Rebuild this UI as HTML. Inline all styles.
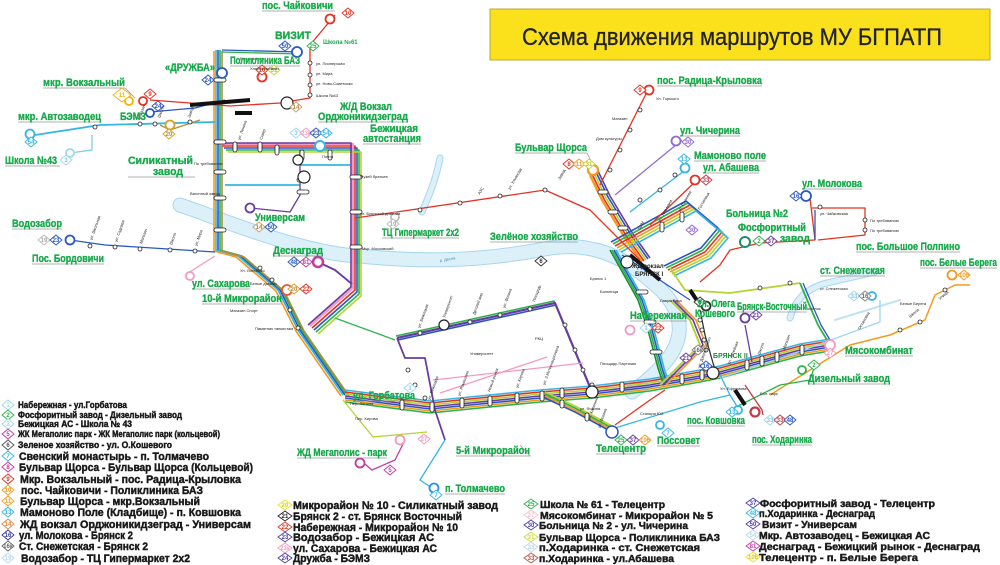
<!DOCTYPE html>
<html><head><meta charset="utf-8"><style>
html,body{margin:0;padding:0;background:#fff;}
svg{display:block;font-family:"Liberation Sans","DejaVu Sans",sans-serif;}
.g{fill:#17a94a;font-weight:bold;font-size:11px;stroke:#17a94a;stroke-width:0.35;}
.lg{fill:#1a1a1a;font-weight:bold;stroke:#1a1a1a;stroke-width:0.45;}
.s{fill:#222;font-size:4px;}
.r{fill:#222;font-size:4px;}
.st{fill:#fff;stroke:#222;stroke-width:0.8;}
</style></head><body>
<svg width="1000" height="565" viewBox="0 0 1000 565" xmlns="http://www.w3.org/2000/svg">
<rect width="1000" height="565" fill="#fff"/>
<g fill="none" stroke-linecap="round">
<path d="M180,205 L200,212 C260,235 320,255 360,256 C420,262 480,262 550,248 C590,242 622,255 652,282 C682,306 686,332 670,356 C658,372 645,383 632,392" stroke="#a9d6ef" stroke-width="15"/>
<path d="M180,205 L200,212 C260,235 320,255 360,256 C420,262 480,262 550,248 C590,242 622,255 652,282 C682,306 686,332 670,356 C658,372 645,383 632,392" stroke="#dcf0fa" stroke-width="13"/>
<path d="M440,158 C436,180 428,198 422,212" stroke="#a9d6ef" stroke-width="7"/>
<path d="M440,158 C436,180 428,198 422,212" stroke="#dcf0fa" stroke-width="5"/>
<path d="M875,272 L823,284 C805,290 795,300 790,318" stroke="#a9d6ef" stroke-width="7"/>
<path d="M875,272 L823,284 C805,290 795,300 790,318" stroke="#dcf0fa" stroke-width="5"/>
<path d="M835,320 L900,300" stroke="#bfe3f5" stroke-width="2"/>
</g>
<text x="440" y="262" font-size="4" fill="#3a8fc8" transform="rotate(-10 440 262)">р. Десна</text>

<defs>
<path id="b1" d="M218,50 L218,250 L240,256 L280,290 L300,330 L345,395"/>
<path id="b2" d="M222,146 L355,146 L355,290 L312,328"/>
<path id="b3" d="M345,396 L430,407 L540,396 L592,392 L650,385 L700,376 L720,372 L800,350 L830,345"/>
<path id="b4" d="M397,338 L555,303 L592,392"/>
<path id="b5" d="M612,250 L640,300 L650,330 L660,368 L665,383"/>
<path id="b6" d="M590,175 L602,200 L625,238 L642,262"/>
<path id="b7" d="M615,246 L690,205 L722,232 L705,252 L668,270"/>
<path id="b8" d="M545,398 L575,412 L612,432"/>
<path id="b9" d="M660,385 L700,345 L690,320 L670,300"/>
</defs>
<g fill="none" stroke-width="1.6" stroke-linejoin="round">
<use href="#b1" stroke="#2a57c4"/>
<use href="#b1" stroke="#2db34a" transform="translate(2,0)"/>
<use href="#b1" stroke="#35b6e6" transform="translate(-2,0)"/>
<use href="#b1" stroke="#b58a3c" transform="translate(4,1)"/>
<use href="#b1" stroke="#f39a1e" transform="translate(-4,1)"/>
<use href="#b2" stroke="#e53222"/>
<use href="#b2" stroke="#2a57c4" transform="translate(2,2)"/>
<use href="#b2" stroke="#2db34a" transform="translate(4,4)"/>
<use href="#b2" stroke="#f49ac1" transform="translate(-2,-2)" stroke-width="2.2"/>
<use href="#b2" stroke="#b5d334" transform="translate(6,6)"/>
<use href="#b2" stroke="#6a3ca0" transform="translate(-4,-3)"/>
<use href="#b3" stroke="#6a3ca0"/>
<use href="#b3" stroke="#2a57c4" transform="translate(0,2)"/>
<use href="#b3" stroke="#b5d334" transform="translate(0,-2)"/>
<use href="#b3" stroke="#f39a1e" transform="translate(0,4)"/>
<use href="#b3" stroke="#e53222" transform="translate(0,-4)"/>
<use href="#b3" stroke="#2db34a" transform="translate(0,6)"/>
<use href="#b3" stroke="#35b6e6" transform="translate(0,-6)"/>
<use href="#b4" stroke="#2a57c4" transform="translate(1,2)"/>
<use href="#b4" stroke="#2db34a" transform="translate(-1,-2)"/>
<use href="#b4" stroke="#6a3ca0" stroke-width="2.2"/>
<use href="#b5" stroke="#2db34a"/>
<use href="#b5" stroke="#2a57c4" transform="translate(2,0)"/>
<use href="#b5" stroke="#35b6e6" transform="translate(4,0)"/>
<use href="#b5" stroke="#1b8f3a" transform="translate(-2,0)"/>
<use href="#b6" stroke="#f39a1e" stroke-width="2.4"/>
<use href="#b6" stroke="#e53222" transform="translate(2,-1)"/>
<use href="#b6" stroke="#b5d334" transform="translate(4,-2)"/>
<use href="#b6" stroke="#2a57c4" transform="translate(6,-3)"/>
<use href="#b6" stroke="#6a3ca0" transform="translate(8,-4)"/>
<use href="#b7" stroke="#e53222"/>
<use href="#b7" stroke="#f39a1e" transform="translate(2,2)"/>
<use href="#b7" stroke="#b5d334" transform="translate(4,4)"/>
<use href="#b7" stroke="#2db34a" transform="translate(-2,-2)"/>
<use href="#b7" stroke="#2a57c4" transform="translate(-4,-4)"/>
<use href="#b7" stroke="#35b6e6" transform="translate(6,6)"/>
<use href="#b8" stroke="#2a57c4"/>
<use href="#b8" stroke="#f39a1e" transform="translate(0,-2)"/>
<use href="#b8" stroke="#2db34a" transform="translate(0,-4)"/>
<use href="#b8" stroke="#b5d334" transform="translate(0,-6)"/>
<use href="#b9" stroke="#b5d334" stroke-width="2"/>
<use href="#b9" stroke="#6a3ca0" transform="translate(3,0)"/>
<use href="#b9" stroke="#f39a1e" transform="translate(6,0)"/>
</g>
<g fill="none" stroke-width="1.3" stroke-linejoin="round">
<path d="M222,50 L300,52" stroke="#2a57c4"/><path d="M222,52 L300,54" stroke="#2db34a"/>
<path d="M335,15 L310,45 L310,98 L280,103 L230,106 L150,100" stroke="#e53222"/>
<path d="M150,112 L195,108 L225,100" stroke="#2a57c4"/>
<path d="M35,135 L100,125 L215,122" stroke="#35b6e6" stroke-width="1.8"/>
<path d="M70,153 L92,150 L92,135" stroke="#7fcbea"/>
<path d="M160,125 L170,130 L200,120" stroke="#b58a3c"/>
<path d="M70,240 L105,245 L215,252" stroke="#2a57c4"/>
<path d="M185,275 L215,256" stroke="#f49ac1"/>
<path d="M225,185 L300,185" stroke="#35b6e6" stroke-width="1.8"/>
<path d="M300,165 L350,165" stroke="#35b6e6" stroke-width="1.8"/>
<path d="M250,208 L290,212 L300,195 L300,150" stroke="#6a3ca0"/>
<path d="M318,262 L335,270 L352,284" stroke="#6a3ca0" stroke-width="1.8"/>
<path d="M355,218 L390,213 L545,190 L590,210 L640,260" stroke="#e53222"/>
<path d="M335,318 L395,340" stroke="#2db34a"/>
<path d="M440,393 L547,357" stroke="#f49ac1"/>
<path d="M433,380 L583,363" stroke="#f49ac1"/>
<path d="M343,400 L373,437 L427,432" stroke="#b5d334"/>
<path d="M397,338 L405,358 L425,358 L435,410 L445,440" stroke="#6a3ca0" stroke-width="1.8"/>
<path d="M445,440 L420,480 L432,488" stroke="#35b6e6"/>
<path d="M405,440 L395,460 L372,470 L360,460" stroke="#c23ba0"/>
<path d="M648,90 L600,185" stroke="#e53222"/>
<path d="M682,140 L615,195" stroke="#8f6ad8"/>
<path d="M688,168 L630,212" stroke="#35b6e6"/>
<path d="M697,180 L650,225" stroke="#e53222"/>
<path d="M810,198 L815,240 L760,243 L730,250 L720,265 L700,282" stroke="#e53222"/>
<path d="M812,208 L865,208 L865,235 L818,240" stroke="#e53222"/>
<path d="M815,240 L815,210" stroke="#2a57c4"/>
<path d="M670,268 L685,290 L730,293 L800,283" stroke="#b5d334" stroke-width="1.8"/>
<path d="M800,283 L808,302 L818,325 L830,345" stroke="#2db34a" stroke-width="1.8"/>
<path d="M803,283 L811,302 L821,325 L833,345" stroke="#2a57c4"/>
<path d="M770,395 L850,345 L890,335 L925,320 L935,295 L955,285 L970,285" stroke="#f39a1e" stroke-width="1.5"/>
<path d="M720,378 L790,355 L880,322 L880,300" stroke="#9fd6f0"/>
<path d="M700,310 L705,335 L715,370" stroke="#333"/>
<path d="M745,325 L752,362" stroke="#6a3ca0"/>
<path d="M730,410 L780,385 L810,380 L815,365" stroke="#2db34a"/>
<path d="M745,385 L762,410 L763,415" stroke="#c23b4a"/>
<path d="M720,375 L730,395 L738,408" stroke="#35b6e6"/>
<path d="M615,428 L700,402 L730,395" stroke="#35b6e6"/>
<path d="M615,425 L650,400 L665,390" stroke="#e53222"/>
<path d="M622,255 L690,300" stroke="#2a57c4"/>
</g>
<g stroke="#999" stroke-width="0.8" fill="none">
<path d="M262,11 L335,11"/><path d="M230,66 L300,66"/><path d="M43,88 L125,88 L135,98"/><path d="M18,122 L101,122"/>
<path d="M318,122 L408,122"/><path d="M363,144 L421,144"/><path d="M5,166 L60,166"/><path d="M128,177 L195,177"/>
<path d="M12,229 L62,229"/><path d="M32,264 L104,264"/><path d="M273,256 L323,256"/><path d="M382,238 L459,238"/>
<path d="M192,289 L250,289"/><path d="M202,304 L282,304"/><path d="M490,242 L578,242"/><path d="M515,153 L587,153 L593,165"/>
<path d="M657,86 L762,86"/><path d="M680,136 L740,136"/><path d="M694,161 L766,161"/><path d="M703,173 L759,173"/>
<path d="M802,189 L862,189"/><path d="M856,252 L960,252"/><path d="M820,276 L885,276"/><path d="M920,268 L997,268"/>
<path d="M630,321 L687,321"/><path d="M845,356 L913,356"/><path d="M808,384 L890,384"/><path d="M353,401 L415,401"/>
<path d="M297,458 L387,458"/><path d="M456,456 L530,456 L520,445"/><path d="M445,494 L505,494"/><path d="M596,454 L646,454"/>
<path d="M657,446 L700,446"/><path d="M687,426 L745,426"/><path d="M752,445 L812,445"/><path d="M737,312 L807,312"/>
</g>
<g stroke="#111" stroke-width="4">
<path d="M190,105 L250,100"/><path d="M235,113 L252,113"/>
<path d="M630,255 L660,280"/><path d="M690,290 L700,305"/>
<path d="M735,390 L745,405"/>
</g>
<g class="st">
<rect x="214" y="78" width="12" height="4" rx="2"/><rect x="214" y="140" width="12" height="4" rx="2"/><rect x="214" y="170" width="12" height="4" rx="2"/>
<rect x="214" y="196" width="12" height="4" rx="2"/><rect x="214" y="228" width="12" height="4" rx="2"/>
<rect x="233" y="142" width="4" height="10" rx="2"/><rect x="258" y="142" width="4" height="10" rx="2"/>
<rect x="350" y="175" width="12" height="4" rx="2"/><rect x="350" y="210" width="12" height="4" rx="2"/><rect x="350" y="245" width="12" height="4" rx="2"/>
<rect x="297" y="178" width="12" height="4" rx="2"/><rect x="297" y="190" width="12" height="4" rx="2"/>
<rect x="300" y="150" width="4" height="10" rx="2"/><rect x="328" y="150" width="4" height="10" rx="2"/>
<rect x="400" y="400" width="4" height="10" rx="2"/><rect x="460" y="398" width="4" height="10" rx="2"/><rect x="515" y="393" width="4" height="10" rx="2"/>
<rect x="560" y="388" width="4" height="10" rx="2"/><rect x="620" y="382" width="4" height="10" rx="2"/><rect x="680" y="374" width="4" height="10" rx="2"/>
<rect x="745" y="360" width="4" height="10" rx="2"/><rect x="775" y="352" width="4" height="10" rx="2"/>
<rect x="636" y="290" width="12" height="4" rx="2"/><rect x="644" y="320" width="12" height="4" rx="2"/><rect x="650" y="350" width="12" height="4" rx="2"/>
<rect x="598" y="190" width="10" height="4" rx="2"/><rect x="608" y="210" width="10" height="4" rx="2"/><rect x="618" y="226" width="10" height="4" rx="2"/>
<rect x="660" y="222" width="4" height="10" rx="2"/><rect x="680" y="212" width="4" height="10" rx="2"/>
<rect x="430" y="402" width="4" height="10" rx="2"/><rect x="488" y="396" width="4" height="10" rx="2"/><rect x="540" y="391" width="4" height="10" rx="2"/>
<rect x="590" y="383" width="4" height="10" rx="2"/><rect x="700" y="370" width="4" height="10" rx="2"/><rect x="760" y="356" width="4" height="10" rx="2"/><rect x="800" y="345" width="4" height="10" rx="2"/>
<rect x="275" y="145" width="4" height="10" rx="2"/><rect x="560" y="400" width="4" height="8" rx="2"/><rect x="585" y="413" width="4" height="8" rx="2"/>
<circle cx="298" cy="160" r="5" stroke-width="1.2"/><circle cx="304" cy="177" r="6" stroke-width="1.2"/>
<circle cx="320" cy="146" r="5" stroke="#35b6e6" stroke-width="2"/>
<circle cx="627" cy="262" r="6" stroke-width="1.2"/><circle cx="592" cy="392" r="6" stroke-width="1.2"/>
<circle cx="713" cy="373" r="6" stroke-width="1.2"/><circle cx="612" cy="432" r="6" stroke="#2a57c4" stroke-width="1.5"/>
<circle cx="444" cy="325" r="5" stroke-width="1.2"/><circle cx="545" cy="190" r="2"/><circle cx="460" cy="203" r="2"/><circle cx="500" cy="196" r="2"/><circle cx="420" cy="210" r="2"/>
<circle cx="95" cy="127" r="2"/><circle cx="140" cy="124" r="2"/><circle cx="155" cy="124" r="2"/><circle cx="170" cy="123" r="2"/><circle cx="190" cy="122" r="2"/>
<circle cx="90" cy="246" r="2"/><circle cx="115" cy="247" r="2"/><circle cx="140" cy="249" r="2"/><circle cx="170" cy="250" r="2"/><circle cx="195" cy="251" r="2"/>
<circle cx="260" cy="268" r="2"/><circle cx="272" cy="280" r="2"/><circle cx="290" cy="310" r="2"/><circle cx="298" cy="328" r="2"/>
<circle cx="310" cy="63" r="2"/><circle cx="310" cy="75" r="2"/><circle cx="310" cy="85" r="2"/><circle cx="310" cy="95" r="2"/>
<circle cx="640" cy="110" r="2"/><circle cx="630" cy="130" r="2"/><circle cx="620" cy="150" r="2"/><circle cx="610" cy="170" r="2"/>
<circle cx="790" cy="283" r="2"/><circle cx="760" cy="288" r="2"/><circle cx="900" cy="330" r="2"/><circle cx="920" cy="322" r="2"/><circle cx="945" cy="290" r="2"/>
<circle cx="700" cy="320" r="2"/><circle cx="702" cy="330" r="2"/><circle cx="704" cy="340" r="2"/><circle cx="706" cy="350" r="2"/>
<circle cx="820" cy="207" r="2"/><circle cx="865" cy="220" r="2"/><circle cx="865" cy="230" r="2"/>
<circle cx="420" cy="333" r="2"/><circle cx="470" cy="322" r="2"/><circle cx="500" cy="315" r="2"/><circle cx="530" cy="309" r="2"/>
<circle cx="565" cy="325" r="2"/><circle cx="575" cy="350" r="2"/><circle cx="583" cy="370" r="2"/>
<circle cx="408" cy="370" r="2"/><circle cx="415" cy="385" r="2"/><circle cx="425" cy="398" r="2"/>
<circle cx="660" cy="190" r="2"/><circle cx="675" cy="175" r="2"/><circle cx="640" cy="200" r="2"/>
</g>
<g fill="#fff" stroke-width="1.8">
<circle cx="330" cy="19" r="4.5" stroke="#e53222"/>
<circle cx="297" cy="52" r="5" stroke="#2a57c4"/>
<circle cx="222" cy="73" r="5" stroke="#2a57c4"/>
<circle cx="262" cy="77" r="4.5" stroke="#e53222"/>
<circle cx="129" cy="101" r="4" stroke="#f0b400"/><circle cx="143" cy="101" r="4" stroke="#e53222"/><circle cx="150" cy="113" r="4" stroke="#2a57c4"/>
<circle cx="30" cy="134" r="4.5" stroke="#35b6e6"/><circle cx="70" cy="153" r="4" stroke="#9fd6f0"/>
<circle cx="170" cy="125" r="4.5" stroke="#d8a020"/>
<circle cx="287" cy="103" r="6" stroke="#222" stroke-width="1.2"/>
<circle cx="70" cy="240" r="4.5" stroke="#2a57c4"/>
<circle cx="190" cy="276" r="4" stroke="#f49ac1"/>
<circle cx="287" cy="290" r="5" stroke="#e85a2a"/>
<circle cx="250" cy="208" r="4.5" stroke="#6a3ca0"/>
<circle cx="318" cy="262" r="5" stroke="#c23ba0" stroke-width="2.5"/>
<circle cx="395" cy="217" r="4" stroke="#bbb"/>
<circle cx="593" cy="170" r="5" stroke="#f39a1e" stroke-width="2.2"/>
<circle cx="649" cy="90" r="4.5" stroke="#e53222"/>
<circle cx="676" cy="141" r="4.5" stroke="#8f6ad8"/>
<circle cx="685" cy="168" r="4.5" stroke="#35b6e6"/>
<circle cx="695" cy="180" r="4.5" stroke="#e53222"/>
<circle cx="806" cy="196" r="5" stroke="#2a57c4"/>
<circle cx="745" cy="242" r="5" stroke="#1b8f6a" stroke-width="2"/>
<circle cx="872" cy="296" r="4" stroke="#35b6e6"/>
<circle cx="952" cy="275" r="4.5" stroke="#f39a1e"/>
<circle cx="630" cy="330" r="4.5" stroke="#f49ac1"/>
<circle cx="706" cy="306" r="4.5" stroke="#333"/>
<circle cx="745" cy="318" r="4.5" stroke="#6a3ca0"/>
<circle cx="830" cy="345" r="5" stroke="#f49ac1"/>
<circle cx="802" cy="370" r="4" stroke="#2db34a"/>
<circle cx="755" cy="412" r="4.5" stroke="#c23b4a" stroke-width="2.2"/>
<circle cx="738" cy="410" r="4" stroke="#35b6e6"/>
<circle cx="660" cy="425" r="4" stroke="#35b6e6"/>
<circle cx="434" cy="488" r="4.5" stroke="#2a8ee6"/>
<circle cx="400" cy="440" r="4.5" stroke="#f49ac1"/>
<circle cx="360" cy="463" r="4.5" stroke="#c23ba0"/>
</g>
<g font-size="6" text-anchor="middle" font-weight="bold" stroke-width="0.9" fill="#fff">
<g stroke="#e53222"><path d="M342,13 L348,8 L354,13 L348,18Z"/></g><text x="348" y="15" fill="#e53222" stroke="none">10</text>
<g stroke="#2a57c4"><path d="M279,46 L285,41 L291,46 L285,51Z"/></g><text x="285" y="48" fill="#2a57c4" stroke="none">50</text>
<g stroke="#2db34a"><path d="M307,46 L313,41 L319,46 L313,51Z"/></g><text x="313" y="48" fill="#2db34a" stroke="none">25</text>
<g stroke="#2a57c4"><path d="M202,80 L208,75 L214,80 L208,85Z"/></g><text x="208" y="82" fill="#2a57c4" stroke="none">24</text>
<g stroke="#e53222"><path d="M256,70 L262,65 L268,70 L262,75Z"/></g><text x="262" y="72" fill="#e53222" stroke="none">10</text>
<g stroke="#c9d43a"><path d="M268,70 L274,65 L280,70 L274,75Z"/></g><text x="274" y="72" fill="#b5c020" stroke="none">31</text>
<g stroke="#f0b400"><path d="M113,95 L122,88 L131,95 L122,102Z"/></g><text x="122" y="97" fill="#f0b400" stroke="none">11</text>
<g stroke="#e53222"><path d="M144,94 L150,89 L156,94 L150,99Z"/></g><text x="150" y="96" fill="#e53222" stroke="none">9</text>
<g stroke="#2a57c4"><path d="M152,106 L158,101 L164,106 L158,111Z"/></g><text x="158" y="108" fill="#2a57c4" stroke="none">24</text>
<g stroke="#35b6e6"><path d="M25,142 L31,137 L37,142 L31,147Z"/></g><text x="31" y="144" fill="#35b6e6" stroke="none">54</text>
<g stroke="#9fd6f0"><path d="M60,160 L66,155 L72,160 L66,165Z"/></g><text x="66" y="162" fill="#7fc6e6" stroke="none">3</text>
<g stroke="#d8a020"><path d="M163,134 L169,129 L175,134 L169,139Z"/></g><text x="169" y="136" fill="#b58a3c" stroke="none">20</text>
<g stroke="#c8a070"><path d="M290,107 L296,102 L302,107 L296,112Z"/></g><text x="296" y="109" fill="#b58a3c" stroke="none">14</text>
<g stroke="#9fd6f0"><path d="M290,133 L296,128 L302,133 L296,138Z"/></g><text x="296" y="135" fill="#7fc6e6" stroke="none">3</text>
<g stroke="#f49ac1"><path d="M300,133 L306,128 L312,133 L306,138Z"/></g><text x="306" y="135" fill="#f49ac1" stroke="none">23к</text>
<g stroke="#2a57c4"><path d="M310,133 L316,128 L322,133 L316,138Z"/></g><text x="316" y="135" fill="#2a57c4" stroke="none">23</text>
<g stroke="#35b6e6"><path d="M320,133 L326,128 L332,133 L326,138Z"/></g><text x="326" y="135" fill="#35b6e6" stroke="none">54</text>
<g stroke="#bbb"><path d="M38,240 L44,235 L50,240 L44,245Z"/></g><text x="44" y="242" fill="#aaa" stroke="none">19</text>
<g stroke="#2a57c4"><path d="M50,240 L56,235 L62,240 L56,245Z"/></g><text x="56" y="242" fill="#2a57c4" stroke="none">23</text>
<g stroke="#c8a070"><path d="M253,227 L259,222 L265,227 L259,232Z"/></g><text x="259" y="229" fill="#b58a3c" stroke="none">14</text>
<g stroke="#2a57c4"><path d="M265,227 L271,222 L277,227 L271,232Z"/></g><text x="271" y="229" fill="#2a57c4" stroke="none">50</text>
<g stroke="#2a57c4"><path d="M288,262 L294,257 L300,262 L294,267Z"/></g><text x="294" y="264" fill="#2a57c4" stroke="none">48</text>
<g stroke="#c23ba0"><path d="M300,262 L306,257 L312,262 L306,267Z"/></g><text x="306" y="264" fill="#c23ba0" stroke="none">81</text>
<g stroke="#d8a020"><path d="M288,289 L294,284 L300,289 L294,294Z"/></g><text x="294" y="291" fill="#b58a3c" stroke="none">20</text>
<g stroke="#e53222"><path d="M300,289 L306,284 L312,289 L306,294Z"/></g><text x="306" y="291" fill="#e53222" stroke="none">22</text>
<g stroke="#bbb"><path d="M387,224 L393,219 L399,224 L393,229Z"/></g><text x="393" y="226" fill="#aaa" stroke="none">19</text>
<g stroke="#e53222"><path d="M563,164 L569,159 L575,164 L569,169Z"/></g><text x="569" y="166" fill="#e53222" stroke="none">8</text>
<g stroke="#f39a1e"><path d="M573,164 L579,159 L585,164 L579,169Z"/></g><text x="579" y="166" fill="#f39a1e" stroke="none">11</text>
<g stroke="#c9d43a"><path d="M583,164 L589,159 L595,164 L589,169Z"/></g><text x="589" y="166" fill="#b5c020" stroke="none">31</text>
<g stroke="#333"><path d="M535,261 L541,256 L547,261 L541,266Z"/></g><text x="541" y="263" fill="#333" stroke="none">6</text>
<g stroke="#e53222"><path d="M634,90 L640,85 L646,90 L640,95Z"/></g><text x="640" y="92" fill="#e53222" stroke="none">9</text>
<g stroke="#8f6ad8"><path d="M682,142 L688,137 L694,142 L688,147Z"/></g><text x="688" y="144" fill="#8f6ad8" stroke="none">30</text>
<g stroke="#35b6e6"><path d="M678,159 L684,154 L690,159 L684,164Z"/></g><text x="684" y="161" fill="#35b6e6" stroke="none">13</text>
<g stroke="#c23b4a"><path d="M700,180 L706,175 L712,180 L706,185Z"/></g><text x="706" y="182" fill="#c23b4a" stroke="none">33</text>
<g stroke="#2a57c4"><path d="M790,196 L796,191 L802,196 L796,201Z"/></g><text x="796" y="198" fill="#2a57c4" stroke="none">16</text>
<g stroke="#2db34a"><path d="M753,241 L759,236 L765,241 L759,246Z"/></g><text x="759" y="243" fill="#2db34a" stroke="none">2</text>
<g stroke="#6a3ca0"><path d="M765,241 L771,236 L777,241 L771,246Z"/></g><text x="771" y="243" fill="#6a3ca0" stroke="none">37</text>
<g stroke="#8f6ad8"><path d="M686,230 L692,225 L698,230 L692,235Z"/></g><text x="692" y="232" fill="#8f6ad8" stroke="none">30</text>
<g stroke="#9fd6f0"><path d="M848,296 L854,291 L860,296 L854,301Z"/></g><text x="854" y="298" fill="#7fc6e6" stroke="none">33</text>
<g stroke="#888"><path d="M859,296 L865,291 L871,296 L865,301Z"/></g><text x="865" y="298" fill="#666" stroke="none">16</text>
<g stroke="#f39a1e"><path d="M958,275 L964,270 L970,275 L964,280Z"/></g><text x="964" y="277" fill="#f39a1e" stroke="none">106</text>
<g stroke="#9fd6f0"><path d="M640,328 L646,323 L652,328 L646,333Z"/></g><text x="646" y="330" fill="#7fc6e6" stroke="none">1</text>
<g stroke="#e53222"><path d="M652,328 L658,323 L664,328 L658,333Z"/></g><text x="658" y="330" fill="#e53222" stroke="none">22</text>
<g stroke="#333"><path d="M694,302 L700,297 L706,302 L700,307Z"/></g><text x="700" y="304" fill="#333" stroke="none">6</text>
<g stroke="#6a3ca0"><path d="M750,315 L756,310 L762,315 L756,320Z"/></g><text x="756" y="317" fill="#6a3ca0" stroke="none">21</text>
<g stroke="#6a3ca0"><path d="M680,358 L686,353 L692,358 L686,363Z"/></g><text x="686" y="360" fill="#6a3ca0" stroke="none">21</text>
<g stroke="#888"><path d="M692,350 L698,345 L704,350 L698,355Z"/></g><text x="698" y="352" fill="#666" stroke="none">16к</text>
<g stroke="#2a57c4"><path d="M700,366 L706,361 L712,366 L706,371Z"/></g><text x="706" y="368" fill="#2a57c4" stroke="none">16</text>
<g stroke="#f49ac1"><path d="M824,353 L830,348 L836,353 L830,358Z"/></g><text x="830" y="355" fill="#f49ac1" stroke="none">27</text>
<g stroke="#2db34a"><path d="M808,365 L814,360 L820,365 L814,370Z"/></g><text x="814" y="367" fill="#2db34a" stroke="none">2</text>
<g stroke="#35b6e6"><path d="M726,412 L732,407 L738,412 L732,417Z"/></g><text x="732" y="414" fill="#35b6e6" stroke="none">13</text>
<g stroke="#9fd6f0"><path d="M764,420 L770,415 L776,420 L770,425Z"/></g><text x="770" y="422" fill="#7fc6e6" stroke="none">33</text>
<g stroke="#c23b4a"><path d="M774,420 L780,415 L786,420 L780,425Z"/></g><text x="780" y="422" fill="#c23b4a" stroke="none">33</text>
<g stroke="#2a57c4"><path d="M784,420 L790,415 L796,420 L790,425Z"/></g><text x="790" y="422" fill="#2a57c4" stroke="none">48</text>
<g stroke="#2db34a"><path d="M615,440 L621,435 L627,440 L621,445Z"/></g><text x="621" y="442" fill="#2db34a" stroke="none">25</text>
<g stroke="#6a3ca0"><path d="M627,440 L633,435 L639,440 L633,445Z"/></g><text x="633" y="442" fill="#6a3ca0" stroke="none">37</text>
<g stroke="#f39a1e"><path d="M639,440 L645,435 L651,440 L645,445Z"/></g><text x="645" y="442" fill="#f39a1e" stroke="none">106</text>
<g stroke="#35b6e6"><path d="M662,433 L668,428 L674,433 L668,438Z"/></g><text x="668" y="435" fill="#35b6e6" stroke="none">7</text>
<g stroke="#f49ac1"><path d="M418,439 L424,434 L430,439 L424,444Z"/></g><text x="424" y="441" fill="#f49ac1" stroke="none">27</text>
<g stroke="#c23ba0"><path d="M384,470 L390,465 L396,470 L390,475Z"/></g><text x="390" y="472" fill="#c23ba0" stroke="none">5</text>
<g stroke="#35b6e6"><path d="M430,495 L436,490 L442,495 L436,500Z"/></g><text x="436" y="497" fill="#35b6e6" stroke="none">7</text>
<g stroke="#9fd6f0"><path d="M404,388 L410,383 L416,388 L410,393Z"/></g><text x="410" y="390" fill="#7fc6e6" stroke="none">1</text>
</g>
<g class="s">
<text x="240" y="60">Горисполком</text><text x="250" y="70">Хлебокомбинат</text><text x="316" y="65">ул. Пионерская</text><text x="316" y="75">ул. Мира</text><text x="316" y="85">ул. Ново-Советская</text><text x="316" y="97">Школа №43</text>
<text x="194" y="165">По требованию</text><text x="190" y="195">Вагонный завод</text><text x="322" y="158">Почта</text><text x="360" y="178">Музей братьев</text><text x="360" y="215">ул. Брянской дивизии</text><text x="362" y="250">Мкр. Московский</text>
<text x="240" y="272">Ул. Литейная</text><text x="250" y="285">Белые домики</text><text x="230" y="312">Магазин Спорт</text><text x="255" y="330">Памятник танкистам</text>
<text x="590" y="280">Брянск 1</text><text x="600" y="293">Больница</text><text x="660" y="302">Лавры Гора</text><text x="656" y="100">Ул. Горького</text><text x="612" y="120">Магазин</text><text x="596" y="140">Дом культуры</text>
<text x="820" y="215">ул. Чайковская</text><text x="870" y="222">По требованию</text><text x="870" y="232">По требованию</text><text x="820" y="290">ст. Снежетская</text><text x="805" y="310">Посёлок</text>
<text x="600" y="365">Площадь Партизан</text><text x="470" y="355">Университет</text><text x="535" y="340">РКЦ</text><text x="720" y="390">Ул. Ефремова</text><text x="760" y="395">Бол. парк</text>
<text x="350" y="405">Пер. Ленина</text><text x="355" y="420">Пер. Кирова</text><text x="580" y="410">ул. Фокина</text><text x="640" y="415">Станция ЮЗ</text><text x="900" y="305">Белые Берега</text>
</g>
<g class="r">
<text transform="translate(92,240) rotate(-70)">ул. Школьная</text><text transform="translate(117,242) rotate(-70)">ул. Садовая</text><text transform="translate(142,244) rotate(-70)">Магазин</text><text transform="translate(172,245) rotate(-70)">Школа</text><text transform="translate(197,246) rotate(-70)">ул. Мира</text>
<text transform="translate(140,120) rotate(-70)">Магазин</text><text transform="translate(160,118) rotate(-70)">Школа</text><text transform="translate(190,118) rotate(-70)">Завод</text>
<text transform="translate(240,140) rotate(-70)">ул. Ленина</text><text transform="translate(262,140) rotate(-70)">Сквер</text>
<text transform="translate(430,400) rotate(-70)">ул. Бежицкая</text><text transform="translate(460,396) rotate(-70)">ул. Ромашина</text><text transform="translate(490,392) rotate(-70)">Новый рынок</text><text transform="translate(518,388) rotate(-70)">ул. Кирова</text><text transform="translate(545,385) rotate(-70)">ул. 3 Интернационала</text>
<text transform="translate(420,328) rotate(-70)">ул. Бежицкая</text><text transform="translate(445,318) rotate(-70)">Университет</text><text transform="translate(475,315) rotate(-70)">Детский мир</text><text transform="translate(505,308) rotate(-70)">ул. Фокина</text><text transform="translate(535,302) rotate(-70)">Площадь</text>
<text transform="translate(590,420) rotate(-70)">ул. Калинина</text><text transform="translate(600,428) rotate(-70)">ул. Фокина</text><text transform="translate(700,368) rotate(-70)">ул. Дзержинского</text>
<text transform="translate(730,365) rotate(-70)">Ул. Литейная</text><text transform="translate(760,355) rotate(-70)">Школа</text><text transform="translate(785,350) rotate(-70)">Магазин</text>
<text transform="translate(660,222) rotate(-60)">ул. Тельмана</text><text transform="translate(680,212) rotate(-60)">ул. Рылеева</text><text transform="translate(700,210) rotate(-60)">Гостиница</text><text transform="translate(640,230) rotate(-60)">ЦУМ</text>
<text transform="translate(560,180) rotate(-60)">Завод</text><text transform="translate(510,190) rotate(-60)">ул. Ульянова</text><text transform="translate(480,195) rotate(-60)">АЗС</text>
<text transform="translate(860,330) rotate(-60)">Остановка</text><text transform="translate(910,318) rotate(-40)">Школа</text><text transform="translate(940,300) rotate(-40)">Улица</text>
</g>
<g class="g">
<text x="262" y="9" textLength="71" lengthAdjust="spacingAndGlyphs">пос. Чайковичи</text>
<text x="275" y="39" textLength="36" lengthAdjust="spacingAndGlyphs">ВИЗИТ</text>
<text x="323" y="44" font-size="6" stroke-width="0">Школа №61</text>
<text x="230" y="64" textLength="70" lengthAdjust="spacingAndGlyphs">Поликлиника БАЗ</text>
<text x="165" y="71" textLength="50" lengthAdjust="spacingAndGlyphs">«ДРУЖБА»</text>
<text x="43" y="86" textLength="82" lengthAdjust="spacingAndGlyphs">мкр. Вокзальный</text>
<text x="18" y="120" textLength="83" lengthAdjust="spacingAndGlyphs">мкр. Автозаводец</text>
<text x="120" y="120" textLength="26" lengthAdjust="spacingAndGlyphs">БЭМЗ</text>
<text x="340" y="110" textLength="52" lengthAdjust="spacingAndGlyphs">Ж/Д Вокзал</text>
<text x="318" y="120" textLength="90" lengthAdjust="spacingAndGlyphs">Орджоникидзеград</text>
<text x="370" y="132" textLength="48" lengthAdjust="spacingAndGlyphs">Бежицкая</text>
<text x="363" y="142" textLength="58" lengthAdjust="spacingAndGlyphs">автостанция</text>
<text x="5" y="164" textLength="52" lengthAdjust="spacingAndGlyphs">Школа №43</text>
<text x="128" y="164" textLength="65" lengthAdjust="spacingAndGlyphs">Силикатный</text>
<text x="153" y="175" textLength="30" lengthAdjust="spacingAndGlyphs">завод</text>
<text x="255" y="221" textLength="50" lengthAdjust="spacingAndGlyphs">Универсам</text>
<text x="12" y="227" textLength="50" lengthAdjust="spacingAndGlyphs">Водозабор</text>
<text x="32" y="262" textLength="72" lengthAdjust="spacingAndGlyphs">Пос. Бордовичи</text>
<text x="273" y="254" textLength="50" lengthAdjust="spacingAndGlyphs">Деснаград</text>
<text x="382" y="236" textLength="77" lengthAdjust="spacingAndGlyphs">ТЦ Гипермаркет 2х2</text>
<text x="192" y="287" textLength="58" lengthAdjust="spacingAndGlyphs">ул. Сахарова</text>
<text x="202" y="302" textLength="80" lengthAdjust="spacingAndGlyphs">10-й Микрорайон</text>
<text x="490" y="240" textLength="88" lengthAdjust="spacingAndGlyphs">Зелёное хозяйство</text>
<text x="515" y="151" textLength="72" lengthAdjust="spacingAndGlyphs">Бульвар Щорса</text>
<text x="657" y="84" textLength="105" lengthAdjust="spacingAndGlyphs">пос. Радица-Крыловка</text>
<text x="680" y="134" textLength="60" lengthAdjust="spacingAndGlyphs">ул. Чичерина</text>
<text x="694" y="159" textLength="72" lengthAdjust="spacingAndGlyphs">Мамоново поле</text>
<text x="703" y="171" textLength="56" lengthAdjust="spacingAndGlyphs">ул. Абашева</text>
<text x="802" y="187" textLength="60" lengthAdjust="spacingAndGlyphs">ул. Молокова</text>
<text x="726" y="217" textLength="62" lengthAdjust="spacingAndGlyphs">Больница №2</text>
<text x="738" y="231" textLength="68" lengthAdjust="spacingAndGlyphs">Фосфоритный</text>
<text x="780" y="242" textLength="30" lengthAdjust="spacingAndGlyphs">завод</text>
<text x="856" y="250" textLength="104" lengthAdjust="spacingAndGlyphs">пос. Большое Полпино</text>
<text x="820" y="274" textLength="65" lengthAdjust="spacingAndGlyphs">ст. Снежетская</text>
<text x="920" y="266" textLength="77" lengthAdjust="spacingAndGlyphs">пос. Белые Берега</text>
<text x="697" y="307" textLength="38" lengthAdjust="spacingAndGlyphs">Ул. Олега</text>
<text x="695" y="317" textLength="40" lengthAdjust="spacingAndGlyphs">Кошевого</text>
<text x="737" y="310" textLength="70" lengthAdjust="spacingAndGlyphs">Брянск-Восточный</text>
<text x="630" y="319" textLength="57" lengthAdjust="spacingAndGlyphs">Набережная</text>
<text x="845" y="354" textLength="68" lengthAdjust="spacingAndGlyphs">Мясокомбинат</text>
<text x="808" y="382" textLength="82" lengthAdjust="spacingAndGlyphs">Дизельный завод</text>
<text x="353" y="399" textLength="62" lengthAdjust="spacingAndGlyphs">ул. Горбатова</text>
<text x="297" y="456" textLength="90" lengthAdjust="spacingAndGlyphs">ЖД Мегаполис - парк</text>
<text x="456" y="454" textLength="74" lengthAdjust="spacingAndGlyphs">5-й Микрорайон</text>
<text x="445" y="492" textLength="60" lengthAdjust="spacingAndGlyphs">п. Толмачево</text>
<text x="596" y="452" textLength="50" lengthAdjust="spacingAndGlyphs">Телецентр</text>
<text x="657" y="444" textLength="43" lengthAdjust="spacingAndGlyphs">Поссовет</text>
<text x="687" y="424" textLength="58" lengthAdjust="spacingAndGlyphs">пос. Ковшовка</text>
<text x="752" y="443" textLength="60" lengthAdjust="spacingAndGlyphs">пос. Ходаринка</text>
</g>
<text x="713" y="358" font-size="7" font-weight="bold" fill="#1b8f3a">БРЯНСК II</text>
<text x="632" y="268" font-size="6" font-weight="bold" fill="#222">ЖД вокзал</text>
<text x="635" y="276" font-size="6" font-weight="bold" fill="#222">БРЯНСК I</text>
<rect x="490" y="9" width="500" height="51" fill="#fbe01c" stroke="#b8a838" stroke-width="1"/>
<text x="522" y="45" font-size="24" fill="#222" stroke="#222" stroke-width="0.3" textLength="420" lengthAdjust="spacingAndGlyphs">Схема движения маршрутов МУ БГПАТП</text>
<g font-size="6" text-anchor="middle" font-weight="bold" stroke-width="0.9" fill="#fff">
<path d="M2,405 L8,400 L14,405 L8,410Z" stroke="#9fd6f0"/><text x="8" y="407" fill="#9fd6f0" stroke="none">1</text>
<path d="M2,415 L8,410 L14,415 L8,420Z" stroke="#2db34a"/><text x="8" y="417" fill="#2db34a" stroke="none">2</text>
<path d="M2,424 L8,419 L14,424 L8,429Z" stroke="#9fd6f0"/><text x="8" y="426" fill="#9fd6f0" stroke="none">3</text>
<path d="M2,434 L8,429 L14,434 L8,439Z" stroke="#c23ba0"/><text x="8" y="436" fill="#c23ba0" stroke="none">5</text>
<path d="M2,445 L8,440 L14,445 L8,450Z" stroke="#555"/><text x="8" y="447" fill="#555" stroke="none">6</text>
<path d="M2,456 L8,451 L14,456 L8,461Z" stroke="#35b6e6"/><text x="8" y="458" fill="#35b6e6" stroke="none">7</text>
<path d="M2,467 L8,462 L14,467 L8,472Z" stroke="#d0309a"/><text x="8" y="469" fill="#d0309a" stroke="none">8</text>
<path d="M2,479 L8,474 L14,479 L8,484Z" stroke="#e53222"/><text x="8" y="481" fill="#e53222" stroke="none">9</text>
<path d="M2,490 L8,485 L14,490 L8,495Z" stroke="#f39a1e"/><text x="8" y="492" fill="#f39a1e" stroke="none">10</text>
<path d="M2,501 L8,496 L14,501 L8,506Z" stroke="#f39a1e"/><text x="8" y="503" fill="#f39a1e" stroke="none">11</text>
<path d="M2,512 L8,507 L14,512 L8,517Z" stroke="#35b6e6"/><text x="8" y="514" fill="#35b6e6" stroke="none">13</text>
<path d="M2,524 L8,519 L14,524 L8,529Z" stroke="#e08a40"/><text x="8" y="526" fill="#e08a40" stroke="none">14</text>
<path d="M2,535 L8,530 L14,535 L8,540Z" stroke="#3a3aa0"/><text x="8" y="537" fill="#3a3aa0" stroke="none">16</text>
<path d="M2,546 L8,541 L14,546 L8,551Z" stroke="#666"/><text x="8" y="548" fill="#666" stroke="none">16к</text>
<path d="M2,558 L8,553 L14,558 L8,563Z" stroke="#b8d8ec"/><text x="8" y="560" fill="#b8d8ec" stroke="none">19</text>
<path d="M278,505 L285,500 L292,505 L285,510Z" stroke="#e8e020"/><text x="285" y="507" fill="#d8d020" stroke="none">20</text>
<path d="M278,516 L285,511 L292,516 L285,521Z" stroke="#222"/><text x="285" y="518" fill="#222" stroke="none">21</text>
<path d="M278,527 L285,522 L292,527 L285,532Z" stroke="#e53222"/><text x="285" y="529" fill="#e53222" stroke="none">22</text>
<path d="M278,537 L285,532 L292,537 L285,542Z" stroke="#4a3ab0"/><text x="285" y="539" fill="#4a3ab0" stroke="none">23</text>
<path d="M278,548 L285,543 L292,548 L285,553Z" stroke="#f49ac1"/><text x="285" y="550" fill="#f49ac1" stroke="none">23к</text>
<path d="M278,558 L285,553 L292,558 L285,563Z" stroke="#4a3ab0"/><text x="285" y="560" fill="#4a3ab0" stroke="none">24</text>
<path d="M524,504 L531,499 L538,504 L531,509Z" stroke="#2db34a"/><text x="531" y="506" fill="#2db34a" stroke="none">25</text>
<path d="M524,515 L531,510 L538,515 L531,520Z" stroke="#f7c0cc"/><text x="531" y="517" fill="#f7c0cc" stroke="none">27</text>
<path d="M524,525 L531,520 L538,525 L531,530Z" stroke="#4a3ab0"/><text x="531" y="527" fill="#4a3ab0" stroke="none">30</text>
<path d="M524,537 L531,532 L538,537 L531,542Z" stroke="#c9e030"/><text x="531" y="539" fill="#c9e030" stroke="none">31</text>
<path d="M524,547 L531,542 L538,547 L531,552Z" stroke="#b8d8ec"/><text x="531" y="549" fill="#b8d8ec" stroke="none">33</text>
<path d="M524,558 L531,553 L538,558 L531,563Z" stroke="#c05040"/><text x="531" y="560" fill="#c05040" stroke="none">33</text>
<path d="M746,503 L753,498 L760,503 L753,508Z" stroke="#4a3ab0"/><text x="753" y="505" fill="#4a3ab0" stroke="none">37</text>
<path d="M746,513 L753,508 L760,513 L753,518Z" stroke="#35b6e6"/><text x="753" y="515" fill="#35b6e6" stroke="none">48</text>
<path d="M746,524 L753,519 L760,524 L753,529Z" stroke="#4a3ab0"/><text x="753" y="526" fill="#4a3ab0" stroke="none">50</text>
<path d="M746,535 L753,530 L760,535 L753,540Z" stroke="#b8d8ec"/><text x="753" y="537" fill="#b8d8ec" stroke="none">54</text>
<path d="M746,546 L753,541 L760,546 L753,551Z" stroke="#c23ba0"/><text x="753" y="548" fill="#c23ba0" stroke="none">81</text>
<path d="M746,557 L753,552 L760,557 L753,562Z" stroke="#f0e020"/><text x="753" y="559" fill="#e0c020" stroke="none">106</text>
</g>
<g class="lg">
<text x="18" y="408" font-size="9" textLength="109" lengthAdjust="spacingAndGlyphs">Набережная - ул.Горбатова</text>
<text x="18" y="418" font-size="9" textLength="164" lengthAdjust="spacingAndGlyphs">Фосфоритный завод - Дизельный завод</text>
<text x="18" y="427" font-size="9" textLength="114" lengthAdjust="spacingAndGlyphs">Бежицкая АС - Школа № 43</text>
<text x="18" y="437" font-size="9" textLength="202" lengthAdjust="spacingAndGlyphs">ЖК Мегаполис парк - ЖК Мегаполис парк (кольцевой)</text>
<text x="18" y="448" font-size="9" textLength="154" lengthAdjust="spacingAndGlyphs">Зеленое хозяйство - ул. О.Кошевого</text>
<text x="19" y="460" font-size="11" textLength="190" lengthAdjust="spacingAndGlyphs">Свенский монастырь - п. Толмачево</text>
<text x="19" y="471" font-size="11" textLength="234" lengthAdjust="spacingAndGlyphs">Бульвар Щорса - Бульвар Щорса (Кольцевой)</text>
<text x="20" y="483" font-size="11" textLength="221" lengthAdjust="spacingAndGlyphs">Мкр. Вокзальный - пос. Радица-Крыловка</text>
<text x="21" y="494" font-size="11" textLength="182" lengthAdjust="spacingAndGlyphs">пос. Чайковичи - Поликлиника БАЗ</text>
<text x="20" y="505" font-size="11" textLength="180" lengthAdjust="spacingAndGlyphs">Бульвар Щорса - мкр.Вокзальный</text>
<text x="20" y="516" font-size="11" textLength="221" lengthAdjust="spacingAndGlyphs">Мамоново Поле (Кладбище) - п. Ковшовка</text>
<text x="20" y="528" font-size="11" textLength="231" lengthAdjust="spacingAndGlyphs">ЖД вокзал Орджоникидзеград - Универсам</text>
<text x="19" y="539" font-size="11" textLength="114" lengthAdjust="spacingAndGlyphs">ул. Молокова - Брянск 2</text>
<text x="19" y="550" font-size="11" textLength="129" lengthAdjust="spacingAndGlyphs">Ст. Снежетская - Брянск 2</text>
<text x="21" y="562" font-size="11" textLength="169" lengthAdjust="spacingAndGlyphs">Водозабор - ТЦ Гипермаркет 2х2</text>
<text x="293" y="509" font-size="11" textLength="205" lengthAdjust="spacingAndGlyphs">Микрорайон № 10 - Силикатный завод</text>
<text x="293" y="520" font-size="11" textLength="169" lengthAdjust="spacingAndGlyphs">Брянск 2 - ст. Брянск Восточный</text>
<text x="293" y="531" font-size="11" textLength="165" lengthAdjust="spacingAndGlyphs">Набережная - Микрорайон № 10</text>
<text x="293" y="541" font-size="11" textLength="141" lengthAdjust="spacingAndGlyphs">Водозабор - Бежицкая АС</text>
<text x="293" y="552" font-size="11" textLength="144" lengthAdjust="spacingAndGlyphs">ул. Сахарова - Бежицкая АС</text>
<text x="293" y="562" font-size="11" textLength="77" lengthAdjust="spacingAndGlyphs">Дружба - БЭМЗ</text>
<text x="540" y="508" font-size="10" textLength="125" lengthAdjust="spacingAndGlyphs">Школа № 61 - Телецентр</text>
<text x="540" y="519" font-size="10" textLength="173" lengthAdjust="spacingAndGlyphs">Мясокомбинат - Микрорайон № 5</text>
<text x="539" y="529" font-size="10" textLength="149" lengthAdjust="spacingAndGlyphs">Больница № 2 - ул. Чичерина</text>
<text x="539" y="541" font-size="10" textLength="181" lengthAdjust="spacingAndGlyphs">Бульвар Щорса - Поликлиника БАЗ</text>
<text x="539" y="551" font-size="10" textLength="161" lengthAdjust="spacingAndGlyphs">п.Ходаринка - ст. Снежетская</text>
<text x="539" y="562" font-size="10" textLength="135" lengthAdjust="spacingAndGlyphs">п.Ходаринка - ул.Абашева</text>
<text x="760" y="507" font-size="10" textLength="175" lengthAdjust="spacingAndGlyphs">Фосфоритный завод - Телецентр</text>
<text x="759" y="517" font-size="10" textLength="116" lengthAdjust="spacingAndGlyphs">п.Ходаринка - Деснаград</text>
<text x="762" y="528" font-size="10" textLength="95" lengthAdjust="spacingAndGlyphs">Визит - Универсам</text>
<text x="759" y="539" font-size="10" textLength="171" lengthAdjust="spacingAndGlyphs">Мкр. Автозаводец - Бежицкая АС</text>
<text x="759" y="550" font-size="10" textLength="221" lengthAdjust="spacingAndGlyphs">Деснаград - Бежицкий рынок - Деснаград</text>
<text x="759" y="561" font-size="10" textLength="159" lengthAdjust="spacingAndGlyphs">Телецентр - п. Белые Берега</text>
</g>
</svg>
</body></html>
